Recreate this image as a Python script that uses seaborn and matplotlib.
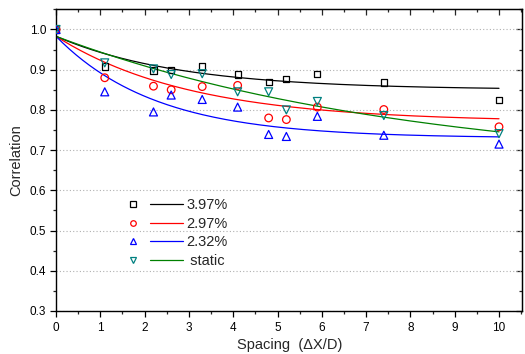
import numpy as np
import pandas as pd
import matplotlib
matplotlib.use("Agg")
import matplotlib.pyplot as plt
import seaborn as sns
from matplotlib.lines import Line2D
from matplotlib.legend_handler import HandlerTuple
from matplotlib.ticker import MultipleLocator, FormatStrFormatter

# Measured spacing (dX/D)
spacing = [0.0, 1.1, 2.2, 2.6, 3.3, 4.1, 4.8, 5.2, 5.9, 7.4, 10.0]

# Correlation per case
corr_397 = [1.0, 0.908, 0.898, 0.900, 0.908, 0.888, 0.869, 0.876, 0.889, 0.868, 0.825]
corr_297 = [1.0, 0.880, 0.859, 0.850, 0.858, 0.861, 0.780, 0.776, 0.807, 0.801, 0.758]
corr_232 = [1.0, 0.845, 0.795, 0.837, 0.826, 0.807, 0.739, 0.734, 0.784, 0.737, 0.715]
corr_static = [1.0, 0.917, 0.902, 0.888, 0.890, 0.845, 0.845, 0.800, 0.821, 0.786, 0.741]

series_names = ["3.97%", "2.97%", "2.32%", " static"]

# Exponential decay fits y = y0 + A*exp(-x/t), parameters
fit_y0 = [0.850, 0.770, 0.730, 0.650]
fit_amp = [0.133, 0.213, 0.253, 0.333]
fit_tau = [2.8, 3.05, 2.25, 8.0]

marker_colors = ["black", "red", "blue", "#008080"]
line_colors = ["black", "red", "blue", "green"]
markers = ["s", "o", "^", "v"]
marker_sizes = [20, 30, 33, 33]

sns.set_style("ticks")
plt.rcParams["font.family"] = ["Liberation Sans", "DejaVu Sans"]

fig = plt.figure(figsize=(5.25, 3.54), dpi=100)
ax = fig.add_axes([0.1067, 0.1215, 0.8885, 0.852])

all_corr = [corr_397, corr_297, corr_232, corr_static]
x_fit = np.linspace(0, 10, 200)
handles = []
for i, name in enumerate(series_names):
    df = pd.DataFrame({"x": spacing, "y": all_corr[i]})
    fit_df = pd.DataFrame({
        "x": x_fit,
        "y": fit_y0[i] + fit_amp[i] * np.exp(-x_fit / fit_tau[i]),
    })
    sns.lineplot(data=fit_df, x="x", y="y", ax=ax, color=line_colors[i],
                 linewidth=0.9, zorder=2)
    sns.scatterplot(data=df, x="x", y="y", ax=ax, marker=markers[i],
                    s=marker_sizes[i], facecolor="none",
                    edgecolor=marker_colors[i], linewidth=0.9, zorder=3)
    mk = Line2D([], [], linestyle="none", marker=markers[i], markersize=4,
                markerfacecolor="none", markeredgecolor=marker_colors[i],
                markeredgewidth=0.9)
    ln = Line2D([], [], color=line_colors[i], linewidth=0.9)
    handles.append((mk, ln))

ax.set_xlim(0, 10.53)
ax.xaxis.set_major_locator(MultipleLocator(1))
ax.xaxis.set_minor_locator(MultipleLocator(0.5))
ax.set_yticks(np.arange(0.3, 1.01, 0.1))
ax.yaxis.set_minor_locator(MultipleLocator(0.05))
ax.yaxis.set_major_formatter(FormatStrFormatter("%.1f"))
ax.set_ylim(0.3, 1.05)

ax.tick_params(which="major", direction="out", length=4, width=0.9,
               labelsize=8.5, pad=3, colors="black")
ax.tick_params(which="minor", direction="out", length=2.5, width=0.9)
ax.tick_params(axis="x", which="major", pad=4)
for spine in ax.spines.values():
    spine.set_linewidth(1.0)
    spine.set_color("black")

# mirrored ticks pointing inward on top and right
sec_x = ax.secondary_xaxis("top")
sec_x.xaxis.set_major_locator(MultipleLocator(1))
sec_x.xaxis.set_minor_locator(MultipleLocator(0.5))
sec_x.tick_params(which="major", direction="in", length=4, width=0.9, labeltop=False)
sec_x.tick_params(which="minor", direction="in", length=2.5, width=0.9)
sec_y = ax.secondary_yaxis("right")
sec_y.yaxis.set_major_locator(MultipleLocator(0.1))
sec_y.yaxis.set_minor_locator(MultipleLocator(0.05))
sec_y.tick_params(which="major", direction="in", length=4, width=0.9, labelright=False)
sec_y.tick_params(which="minor", direction="in", length=2.5, width=0.9)
ax.tick_params(top=False, right=False, which="both")

ax.yaxis.grid(True, which="major", linestyle=(0, (1, 2)), color="#b0b0b0",
              linewidth=0.8)
ax.set_axisbelow(True)

ax.set_xlabel("Spacing  (\u0394X/D)", fontsize=10.5, labelpad=3)
ax.set_ylabel("Correlation", fontsize=10.5, labelpad=5)

ax.legend(handles, series_names, handler_map={tuple: HandlerTuple(ndivide=None, pad=0)},
          loc="upper left", bbox_to_anchor=(0.118, 0.394), frameon=False,
          fontsize=10.5, handlelength=4.5, handletextpad=0.25,
          labelspacing=0.32, borderaxespad=0)

fig.savefig("out.png", dpi=100)
